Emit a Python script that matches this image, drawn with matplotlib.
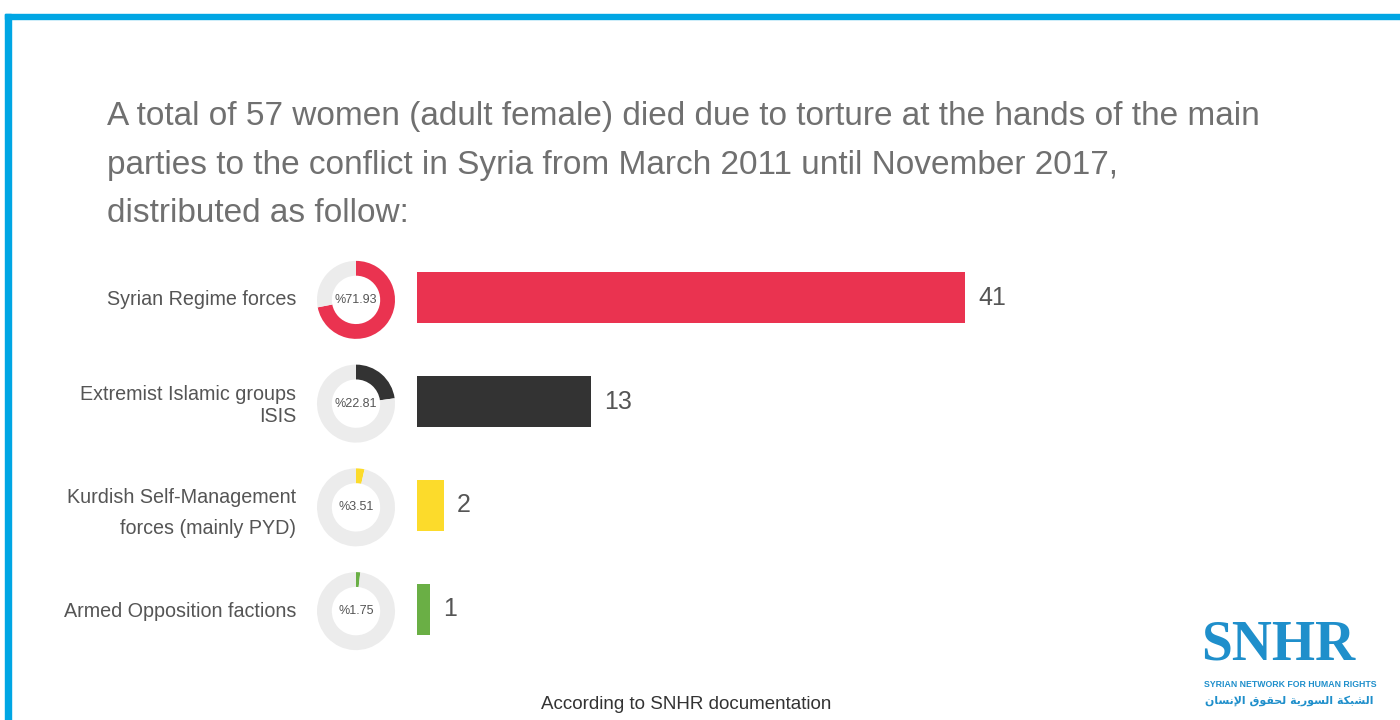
import matplotlib.pyplot as plt
from matplotlib.patches import Rectangle

# data
categories = ['Syrian Regime forces',
              'Extremist Islamic groups\nISIS',
              'Kurdish Self-Management\nforces (mainly PYD)',
              'Armed Opposition factions']
counts = [41, 13, 2, 1]
percents = [71.93, 22.81, 3.51, 1.75]
colors = ['#ea3350', '#333333', '#fcdb2b', '#6aaf45']
title_lines = ['A total of 57 women (adult female) died due to torture at the hands of the main',
               'parties to the conflict in Syria from March 2011 until November 2017,',
               'distributed as follow:']
source = 'According to SNHR documentation'

# arabic logo line, pre-shaped presentation forms (logical order), reversed for display
arabic_shaped = ('\uFE8D\uFEDF\uFEB8\uFE92\uFEDC\uFE94 '
                 '\uFE8D\uFEDF\uFEB4\uFEEE\uFEAD\uFEF3\uFE94 '
                 '\uFEDF\uFEA4\uFED8\uFEEE\uFED5 '
                 '\uFE8D\uFEF9\uFEE7\uFEB4\uFE8E\uFEE5')
arabic = arabic_shaped[::-1]

plt.rcParams['font.family'] = ['Liberation Sans', 'DejaVu Sans']

W, H = 1400, 720
fig = plt.figure(figsize=(W / 100, H / 100), dpi=100)
fig.patch.set_facecolor('white')

# background axes in pixel coords for frame and free text
bg = fig.add_axes([0, 0, 1, 1], zorder=0)
bg.set_xlim(0, W)
bg.set_ylim(H, 0)
bg.axis('off')
blue = '#00a6e4'
bg.add_patch(Rectangle((5, 14), W, 5, color=blue))
bg.add_patch(Rectangle((5, 14), 6, H, color=blue))

for line, yb in zip(title_lines, [125, 174, 222]):
    bg.text(107, yb, line, fontsize=24, color='#707070', va='baseline')

bg.text(686, 709, source, fontsize=13.5, color='#333333', ha='center', va='baseline')

# logo
logo_blue = '#1f8fcb'
bg.text(1201, 660, 'SNHR', family='Liberation Serif', weight='bold', fontsize=40,
        color=logo_blue, va='baseline')
bg.text(1204, 687, 'SYRIAN NETWORK FOR HUMAN RIGHTS', fontsize=6.3, weight='bold',
        family=['Liberation Sans Narrow', 'Liberation Sans'], color=logo_blue, va='baseline')
bg.text(1205, 704, arabic, family='DejaVu Sans', weight='bold', fontsize=7.9,
        color=logo_blue, va='baseline')

# bar axes
px_unit = 13.37
xmax = 50
ax = fig.add_axes([417 / W, 1 - 661 / H, xmax * px_unit / W, 415 / H], zorder=1)
ax.patch.set_alpha(0)
ypos = list(range(len(categories)))
ax.barh(ypos, counts, height=0.49, color=colors)
ax.set_xlim(0, xmax)
ax.set_ylim(len(categories) - 0.5, -0.5)
for s in ax.spines.values():
    s.set_visible(False)
ax.set_xticks([])
ax.set_yticks(ypos, categories, fontsize=14.2, color='#555555')
ax.tick_params(axis='y', length=0, pad=87)
spacings = [1.2, 1.25, 1.8, 1.2]
for lab, sp in zip(ax.get_yticklabels(), spacings):
    lab.set_linespacing(sp)

for i, v in enumerate(counts):
    ax.annotate(str(v), (v, i), xytext=(9.5, 0), textcoords='offset points',
                va='center', ha='left', fontsize=18, color='#555555')

# donuts next to each bar
fig.canvas.draw()
size = 78
for i, (p, c) in enumerate(zip(percents, colors)):
    cx, cy = ax.transData.transform((0, i))
    cx = cx - (417 - 356)
    cy = cy - 2
    dax = fig.add_axes([(cx - size / 2) / W, (cy - size / 2) / H, size / W, size / H], zorder=2)
    dax.pie([p, 100 - p], colors=[c, '#ececec'], startangle=90, counterclock=False,
            wedgeprops=dict(width=0.38))
    dax.set_xlim(-1, 1)
    dax.set_ylim(-1, 1)
    dax.text(0, 0, '%' + f'{p:.2f}', ha='center', va='center', fontsize=9, color='#555555')

fig.savefig('out.png', dpi=100)
